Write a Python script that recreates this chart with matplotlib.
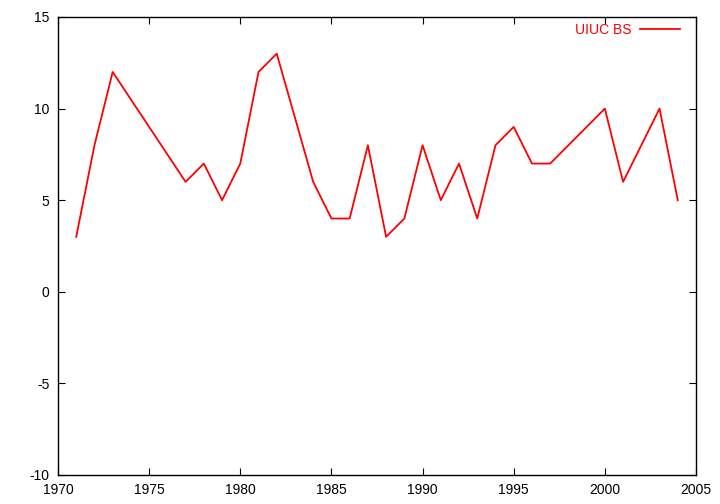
import matplotlib
matplotlib.use("Agg")
import matplotlib.pyplot as plt

years = [1971, 1972, 1973, 1977, 1978, 1979, 1980, 1981, 1982, 1984, 1985, 1986,
         1987, 1988, 1989, 1990, 1991, 1992, 1993, 1994, 1995, 1996, 1997, 2000,
         2001, 2003, 2004]
values = [3, 8, 12, 6, 7, 5, 7, 12, 13, 6, 4, 4,
          8, 3, 4, 8, 5, 7, 4, 8, 9, 7, 7, 10,
          6, 10, 5]
series_label = "UIUC BS"
xticks = [1970, 1975, 1980, 1985, 1990, 1995, 2000, 2005]
yticks = [-10, -5, 0, 5, 10, 15]

plt.rcParams['font.family'] = ['Liberation Sans', 'DejaVu Sans']
plt.rcParams['axes.unicode_minus'] = False
fig = plt.figure(figsize=(7.2, 5.04), dpi=100)
ax = fig.add_axes([58/720, 29/504, 638/720, 458/504])
ax.plot(years, values, color='red', lw=1.3, label=series_label)
ax.set_xlim(1970, 2005)
ax.set_ylim(-10, 15)
ax.set_xticks(xticks)
ax.set_yticks(yticks)
ax.tick_params(direction='in', top=True, right=True, length=5, labelsize=10)
ax.tick_params(axis='x', pad=6)
ax.tick_params(axis='y', pad=6)
for s in ax.spines.values():
    s.set_linewidth(1.0)
leg = ax.legend(loc='upper right', bbox_to_anchor=(0.984, 1.0), borderaxespad=0,
                frameon=False, markerfirst=False, labelcolor='red',
                fontsize=10, handlelength=2.9, handletextpad=0.6)
fig.savefig('out.png', dpi=100)
